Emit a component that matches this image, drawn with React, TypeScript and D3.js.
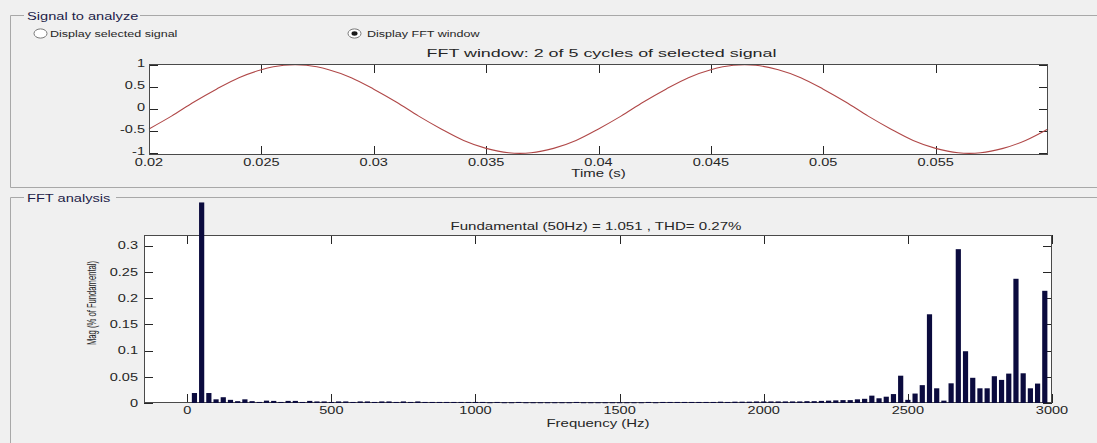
import * as d3 from "d3";

const W = 1097;
const H = 443;

const timeStart = 0.02;
const timeStep = 0.001;
const waveValues = [
  -0.45, -0.16, 0.16, 0.45, 0.71, 0.89, 0.99, 0.99, 0.89, 0.71,
  0.45, 0.16, -0.16, -0.45, -0.71, -0.89, -0.99, -0.99, -0.89, -0.71,
  -0.45, -0.16, 0.16, 0.45, 0.71, 0.89, 0.99, 0.99, 0.89, 0.71,
  0.45, 0.16, -0.16, -0.45, -0.71, -0.89, -0.99, -0.99, -0.89, -0.71,
  -0.45,
];
const timeTicks = [0.02, 0.025, 0.03, 0.035, 0.04, 0.045, 0.05, 0.055];
const timeTickLabels = ["0.02", "0.025", "0.03", "0.035", "0.04", "0.045", "0.05", "0.055"];
const ampTicks = [-1, -0.5, 0, 0.5, 1];
const ampTickLabels = ["-1", "-0.5", "0", "0.5", "1"];

// bottom plot: FFT magnitudes, 25 Hz bins from 0 Hz
const binHz = 25;
const magValues = [
  0, 0.019, 0.382, 0.019, 0.007, 0.011, 0.006, 0.0035, 0.007, 0.0035, 0.002,
  0.0045, 0.004, 0.002, 0.004, 0.004, 0.002, 0.004, 0.003, 0.003, 0.002,
  0.003, 0.003, 0.002, 0.003, 0.003, 0.002, 0.003, 0.003, 0.002, 0.003,
  0.002, 0.003, 0.002, 0.002, 0.002, 0.002, 0.002, 0.002, 0.002, 0.002,
  0.002, 0.0015, 0.002, 0.0015, 0.0015, 0.002, 0.0015, 0.0015, 0.0015, 0.0015,
  0.0015, 0.0015, 0.0015, 0.002, 0.0015, 0.0015, 0.0015, 0.0015, 0.0015, 0.0015,
  0.0015, 0.0015, 0.0015, 0.002, 0.0015, 0.002, 0.002, 0.002, 0.002, 0.002,
  0.002, 0.002, 0.002, 0.0025, 0.002, 0.0025, 0.0025, 0.0025, 0.003, 0.003,
  0.003, 0.003,
  0.003, 0.003, 0.003, 0.0035, 0.0035, 0.004, 0.0045, 0.005, 0.0055, 0.0055,
  0.007, 0.008,
  0.014, 0.009, 0.012, 0.017, 0.052, 0.006, 0.018, 0.034, 0.169, 0.028,
  0.0045, 0.0375, 0.293, 0.0986, 0.048, 0.028, 0.028, 0.051, 0.044, 0.056,
  0.2366, 0.0566, 0.028, 0.037, 0.2137,
];
const freqTicks = [0, 500, 1000, 1500, 2000, 2500, 3000];
const magTicks = [0, 0.05, 0.1, 0.15, 0.2, 0.25, 0.3];
const magTickLabels = ["0", "0.05", "0.1", "0.15", "0.2", "0.25", "0.3"];

const topTitle = "FFT window: 2 of 5 cycles of selected signal";
const fftTitle = "Fundamental (50Hz) = 1.051 , THD= 0.27%";

const FONT = "'Liberation Sans', Arial, sans-serif";
const INK = "#262626";
const TICK = 9;

const Txt = ({ x, y, children, anchor = "middle", size = 11, sx = 1.32, fill = INK, baseline = "auto" }) => (
  <text
    transform={`translate(${x},${y}) scale(${sx},1)`}
    textAnchor={anchor}
    dominantBaseline={baseline}
    fontSize={size}
    fontFamily={FONT}
    fill={fill}
  >
    {children}
  </text>
);

const Radio = ({ cx, cy, on }) => (
  <g>
    <ellipse cx={cx} cy={cy} rx={6.5} ry={4.6} fill="#fff" stroke="#7a7a7a" strokeWidth={1} />
    {on && <ellipse cx={cx} cy={cy} rx={3} ry={2.2} fill="#1a1a1a" />}
  </g>
);

const GroupBox = ({ y, bottom, title, titleWidth }) => (
  <g>
    <path
      d={`M24,${y + 0.5} H10.5 V${bottom} ${bottom < H ? `H${W}` : ""}`}
      fill="none"
      stroke="#a8a8a8"
    />
    <path d={`M${27 + titleWidth + 4},${y + 0.5} H${W}`} stroke="#a8a8a8" />
    <Txt x={27} y={y + 4.5} anchor="start" sx={1.33} fill="#1c1c48">
      {title}
    </Txt>
  </g>
);

const App = () => {
  // ---- top plot scales
  const tx = d3.scaleLinear().domain([0.02, 0.06]).range([149, 1048]);
  const ty = d3.scaleLinear().domain([-1.04, 1.02]).range([155, 64]);
  const wave = d3
    .line()
    .x((d, i) => tx(timeStart + i * timeStep))
    .y((d) => ty(d))
    .curve(d3.curveCatmullRom.alpha(0.5));

  // ---- FFT plot scales
  const fx = d3.scaleLinear().domain([-150, 3000]).range([144, 1052]);
  const fy = d3.scaleLinear().domain([0, 0.32]).range([403, 235]);
  const barW = fx(18) - fx(0);

  const [tx0, tx1] = tx.range();
  const [ty0, ty1] = ty.range();
  const [fx0, fx1] = fx.range();
  const [fy0, fy1] = fy.range();

  return (
    <svg
      width={W}
      height={H}
      style={{ position: "absolute", left: 0, top: 0, display: "block" }}
    >
      <rect width={W} height={H} fill="#f0f0f0" />

      {/* panels */}
      <GroupBox y={15} bottom={187.5} title="Signal to analyze" titleWidth={109} />
      <GroupBox y={197} bottom={H} title="FFT analysis" titleWidth={85} />

      <Radio cx={40.5} cy={33.5} />
      <Txt x={50} y={37} anchor="start" size={9.5} sx={1.32}>
        Display selected signal
      </Txt>
      <Radio cx={354.5} cy={33.5} on />
      <Txt x={367} y={37} anchor="start" size={9.5} sx={1.32}>
        Display FFT window
      </Txt>

      {/* ---------- top plot ---------- */}
      <rect x={tx0} y={ty1} width={tx1 - tx0} height={ty0 - ty1} fill="#fff" />
      <g stroke={INK} strokeWidth={1}>
        {timeTicks.map((t) => (
          <g key={`tt${t}`}>
            <line x1={Math.round(tx(t)) + 0.5} x2={Math.round(tx(t)) + 0.5} y1={ty0} y2={ty0 - TICK} />
            <line x1={Math.round(tx(t)) + 0.5} x2={Math.round(tx(t)) + 0.5} y1={ty1} y2={ty1 + TICK} />
          </g>
        ))}
        {ampTicks.map((a) => (
          <g key={`at${a}`}>
            <line x1={tx0} x2={tx0 + TICK} y1={Math.round(ty(a)) + 0.5} y2={Math.round(ty(a)) + 0.5} />
            <line x1={tx1} x2={tx1 - TICK} y1={Math.round(ty(a)) + 0.5} y2={Math.round(ty(a)) + 0.5} />
          </g>
        ))}
      </g>
      <path d={wave(waveValues)} fill="none" stroke="#b04848" strokeWidth={1.1} />
      <rect
        x={tx0 + 0.5}
        y={ty1 + 0.5}
        width={tx1 - tx0 - 1}
        height={ty0 - ty1 - 1}
        fill="none"
        stroke="#4a4a4a"
      />
      {timeTicks.map((t, i) => (
        <Txt key={`tl${t}`} x={tx(t)} y={165.5}>
          {timeTickLabels[i]}
        </Txt>
      ))}
      {ampTicks.map((a, i) => (
        <Txt key={`al${a}`} x={tx0 - 4} y={ty(a) - 2} anchor="end" baseline="central">
          {ampTickLabels[i]}
        </Txt>
      ))}
      <Txt x={(tx0 + tx1) / 2} y={177} sx={1.36}>
        Time (s)
      </Txt>
      <text
        x={(tx0 + tx1) / 2 + 3}
        y={57}
        textAnchor="middle"
        fontSize={11.5}
        fontFamily={FONT}
        fill={INK}
        textLength={350}
        lengthAdjust="spacingAndGlyphs"
      >
        {topTitle}
      </text>

      {/* ---------- FFT plot ---------- */}
      <rect x={fx0} y={fy1} width={fx1 - fx0} height={fy0 - fy1} fill="#fff" />
      <g stroke={INK} strokeWidth={1}>
        {freqTicks.map((f) => (
          <g key={`ft${f}`}>
            <line x1={Math.round(fx(f)) + 0.5} x2={Math.round(fx(f)) + 0.5} y1={fy0} y2={fy0 - TICK} />
            <line x1={Math.round(fx(f)) + 0.5} x2={Math.round(fx(f)) + 0.5} y1={fy1} y2={fy1 + TICK} />
          </g>
        ))}
        {magTicks.map((m) => (
          <g key={`mt${m}`}>
            <line x1={fx0} x2={fx0 + TICK} y1={Math.round(fy(m)) + 0.5} y2={Math.round(fy(m)) + 0.5} />
            <line x1={fx1} x2={fx1 - TICK} y1={Math.round(fy(m)) + 0.5} y2={Math.round(fy(m)) + 0.5} />
          </g>
        ))}
      </g>
      <rect
        x={fx0 + 0.5}
        y={fy1 + 0.5}
        width={fx1 - fx0 - 1}
        height={fy0 - fy1 - 1}
        fill="none"
        stroke="#4a4a4a"
      />
      <g fill="#0b0b3e">
        {magValues.map((m, i) =>
          m > 0 ? (
            <rect
              key={`b${i}`}
              x={fx(i * binHz) - barW / 2}
              y={fy(m)}
              width={barW}
              height={Math.max(1, fy(0) - fy(m))}
            />
          ) : null
        )}
      </g>
      {freqTicks.map((f) => (
        <Txt key={`fl${f}`} x={fx(f)} y={414}>
          {String(f)}
        </Txt>
      ))}
      {magTicks.map((m, i) => (
        <Txt key={`ml${m}`} x={fx0 - 6} y={fy(m)} anchor="end" baseline="central">
          {magTickLabels[i]}
        </Txt>
      ))}
      <Txt x={(fx0 + fx1) / 2} y={427} sx={1.36}>
        Frequency (Hz)
      </Txt>
      <text
        x={(fx0 + fx1) / 2 - 2}
        y={230}
        textAnchor="middle"
        fontSize={11.5}
        fontFamily={FONT}
        fill={INK}
        textLength={291}
        lengthAdjust="spacingAndGlyphs"
      >
        {fftTitle}
      </text>
      <text
        transform={`translate(96,${(fy0 + fy1) / 2 - 16}) rotate(-90)`}
        textAnchor="middle"
        fontSize={13.5}
        fontFamily={FONT}
        fill={INK}
        textLength={84}
        lengthAdjust="spacingAndGlyphs"
      >
        Mag (% of Fundamental)
      </text>
    </svg>
  );
};

export default App;
